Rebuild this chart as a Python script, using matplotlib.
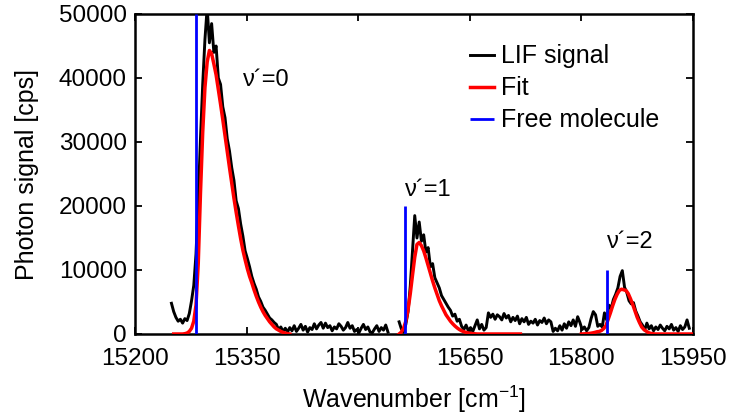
import numpy as np
import matplotlib
matplotlib.use("Agg")
import matplotlib.pyplot as plt

plt.rcParams['font.family'] = ['Liberation Sans', 'DejaVu Sans']
plt.rcParams['mathtext.fontset'] = 'custom'
plt.rcParams['mathtext.rm'] = 'Liberation Sans'
plt.rcParams['mathtext.it'] = 'Liberation Sans:italic'

# LIF signal, two scan segments (wavenumber grid step 3 cm^-1)
lif_nu_a = np.arange(15249, 15541, 3)
lif_a = [4800, 3500, 2600, 2000, 2300, 1700, 2400, 2100, 3200, 5200,
         7600, 12500, 21000, 30500, 39000, 46000, 51000, 45500, 48500, 44000,
         45000, 40000, 39000, 35500, 33800, 30500, 28600, 26000, 24000, 20800,
         19600, 17200, 15300, 13000, 11800, 10500, 9000, 7900, 7000, 5800,
         5100, 4200, 3700, 3100, 2500, 2200, 1800, 1500, 700, 1100,
         400, 900, 300, 1000, 500, 1300, 400, 900, 1500, 600,
         1200, 300, 1000, 700, 1600, 800, 1400, 1800, 900, 1700,
         1000, 1300, 500, 1100, 800, 1600, 1200, 600, 1000, 1800,
         900, 1300, 400, 700, 200, 900, 1500, 700, 1100, 300,
         200, 800, 1300, 400, 1000, 600, 1400, 300]

lif_nu_b = np.arange(15555, 15946, 3)
lif_b = [1900, 800, 300, 1500, 3500, 7500, 13000, 18500, 15000, 17500,
         14500, 15500, 12800, 13500, 10500, 11000, 8800, 8000, 7200, 6000,
         5400, 4800, 4200, 3700, 2800, 3100, 2000, 2300, 1200, 700,
         1400, 500, 1000, 400, 1300, 2200, 800, 1500, 600, 1000,
         3300, 2600, 3100, 2300, 3000, 2700, 2200, 3200, 2500, 2900,
         1900, 2600, 2100, 2800, 1600, 2400, 1900, 2600, 1500, 2000,
         1700, 2300, 1400, 2100, 1800, 2500, 1600, 2200, 1900, 400,
         900, 500, 1300, 600, 1600, 900, 1900, 1300, 2200, 1200,
         2700, 1800, 700, 1100, 500, 1000, 2400, 3500, 3000, 1200,
         1500, 1100, 3300, 2200, 4500, 4000, 5400, 6200, 7200, 9000,
         9900, 7300, 6500, 5200, 4700, 4900, 3600, 2800, 1900, 1400,
         600, 1700, 800, 1300, 500, 1100, 700, 1400, 900, 500,
         1200, 800, 1500, 600, 1000, 400, 1300, 700, 1100, 2200,
         900]

# Fit curves for the three vibronic bands
fit1_nu = np.arange(15252, 15409, 3)
fit1 = [0, 0, 0, 0, 0, 50, 150, 400, 900, 2000,
        4500, 11000, 22000, 31500, 38500, 42500, 44300, 43800, 42200, 40500,
        38200, 35900, 33500, 31000, 28500, 26000, 23600, 21200, 19000, 16900,
        14900, 13100, 11600, 10200, 9000, 8000, 6900, 5900, 5000, 4200,
        3500, 2900, 2400, 1900, 1500, 1100, 800, 600, 400, 250,
        150, 60, 0]

fit2_nu = np.append(np.arange(15555, 15661, 3), 15718)
fit2 = [0, 300, 900, 2000, 3800, 6300, 9200, 12000, 14000, 14300,
        13800, 13000, 11900, 10700, 9500, 8300, 7200, 6200, 5200, 4400,
        3700, 3000, 2500, 2000, 1600, 1250, 950, 700, 500, 360,
        250, 160, 100, 60, 30, 0, 0]

fit3_nu = np.append(np.arange(15800, 15900, 3), 15948)
fit3 = [0, 20, 40, 70, 110, 170, 250, 350, 400, 550,
        850, 1300, 2300, 3300, 4400, 5400, 6200, 6800, 7000, 6900,
        6800, 6300, 5500, 4600, 3600, 2600, 1800, 1100, 700, 450,
        220, 100, 50, 0, 0]

# Free molecule transitions
free_nu = [15282, 15563, 15835]
free_height = [50000, 20000, 10000]

band_labels = ["ν´=0", "ν´=1", "ν´=2"]
band_label_pos = [(15345, 39700), (15563, 22500), (15834, 14450)]

fig = plt.figure(figsize=(7.29, 4.2), dpi=100)
ax = fig.add_axes([135 / 729, 86 / 420, 558 / 729, 320 / 420])

ax.plot(lif_nu_a, lif_a, color='black', lw=2.1, label='LIF signal', zorder=2)
ax.plot(lif_nu_b, lif_b, color='black', lw=2.1, zorder=2)
ax.plot(fit1_nu, fit1, color='red', lw=2.5, label='Fit', zorder=3)
ax.plot(fit2_nu, fit2, color='red', lw=2.5, zorder=3)
ax.plot(fit3_nu, fit3, color='red', lw=2.5, zorder=3)
ax.vlines(free_nu, 0, free_height, color='blue', lw=2.0, label='Free molecule', zorder=4)

for txt, (x, y) in zip(band_labels, band_label_pos):
    ax.text(x, y, txt, fontsize=17, va='center', ha='left')

ax.set_xlim(15200, 15950)
ax.set_ylim(0, 50000)
ax.set_xticks(np.arange(15200, 15951, 150))
ax.set_yticks(np.arange(0, 50001, 10000))
ax.tick_params(direction='in', top=True, right=True, length=5, width=1.3,
               labelsize=17.5)
ax.tick_params(axis='x', pad=10)
ax.tick_params(axis='y', pad=6)
for s in ax.spines.values():
    s.set_linewidth(1.8)

ax.set_xlabel('Wavenumber [cm$^{-1}$]', fontsize=18, labelpad=10)
ax.set_ylabel('Photon signal [cps]', fontsize=18, labelpad=14)

ax.legend(loc='upper left', bbox_to_anchor=(0.6, 0.905), frameon=False,
          fontsize=18, handlelength=0.95, handletextpad=0.3,
          labelspacing=0.32, borderpad=0, borderaxespad=0)

fig.savefig('out.png', dpi=100)
